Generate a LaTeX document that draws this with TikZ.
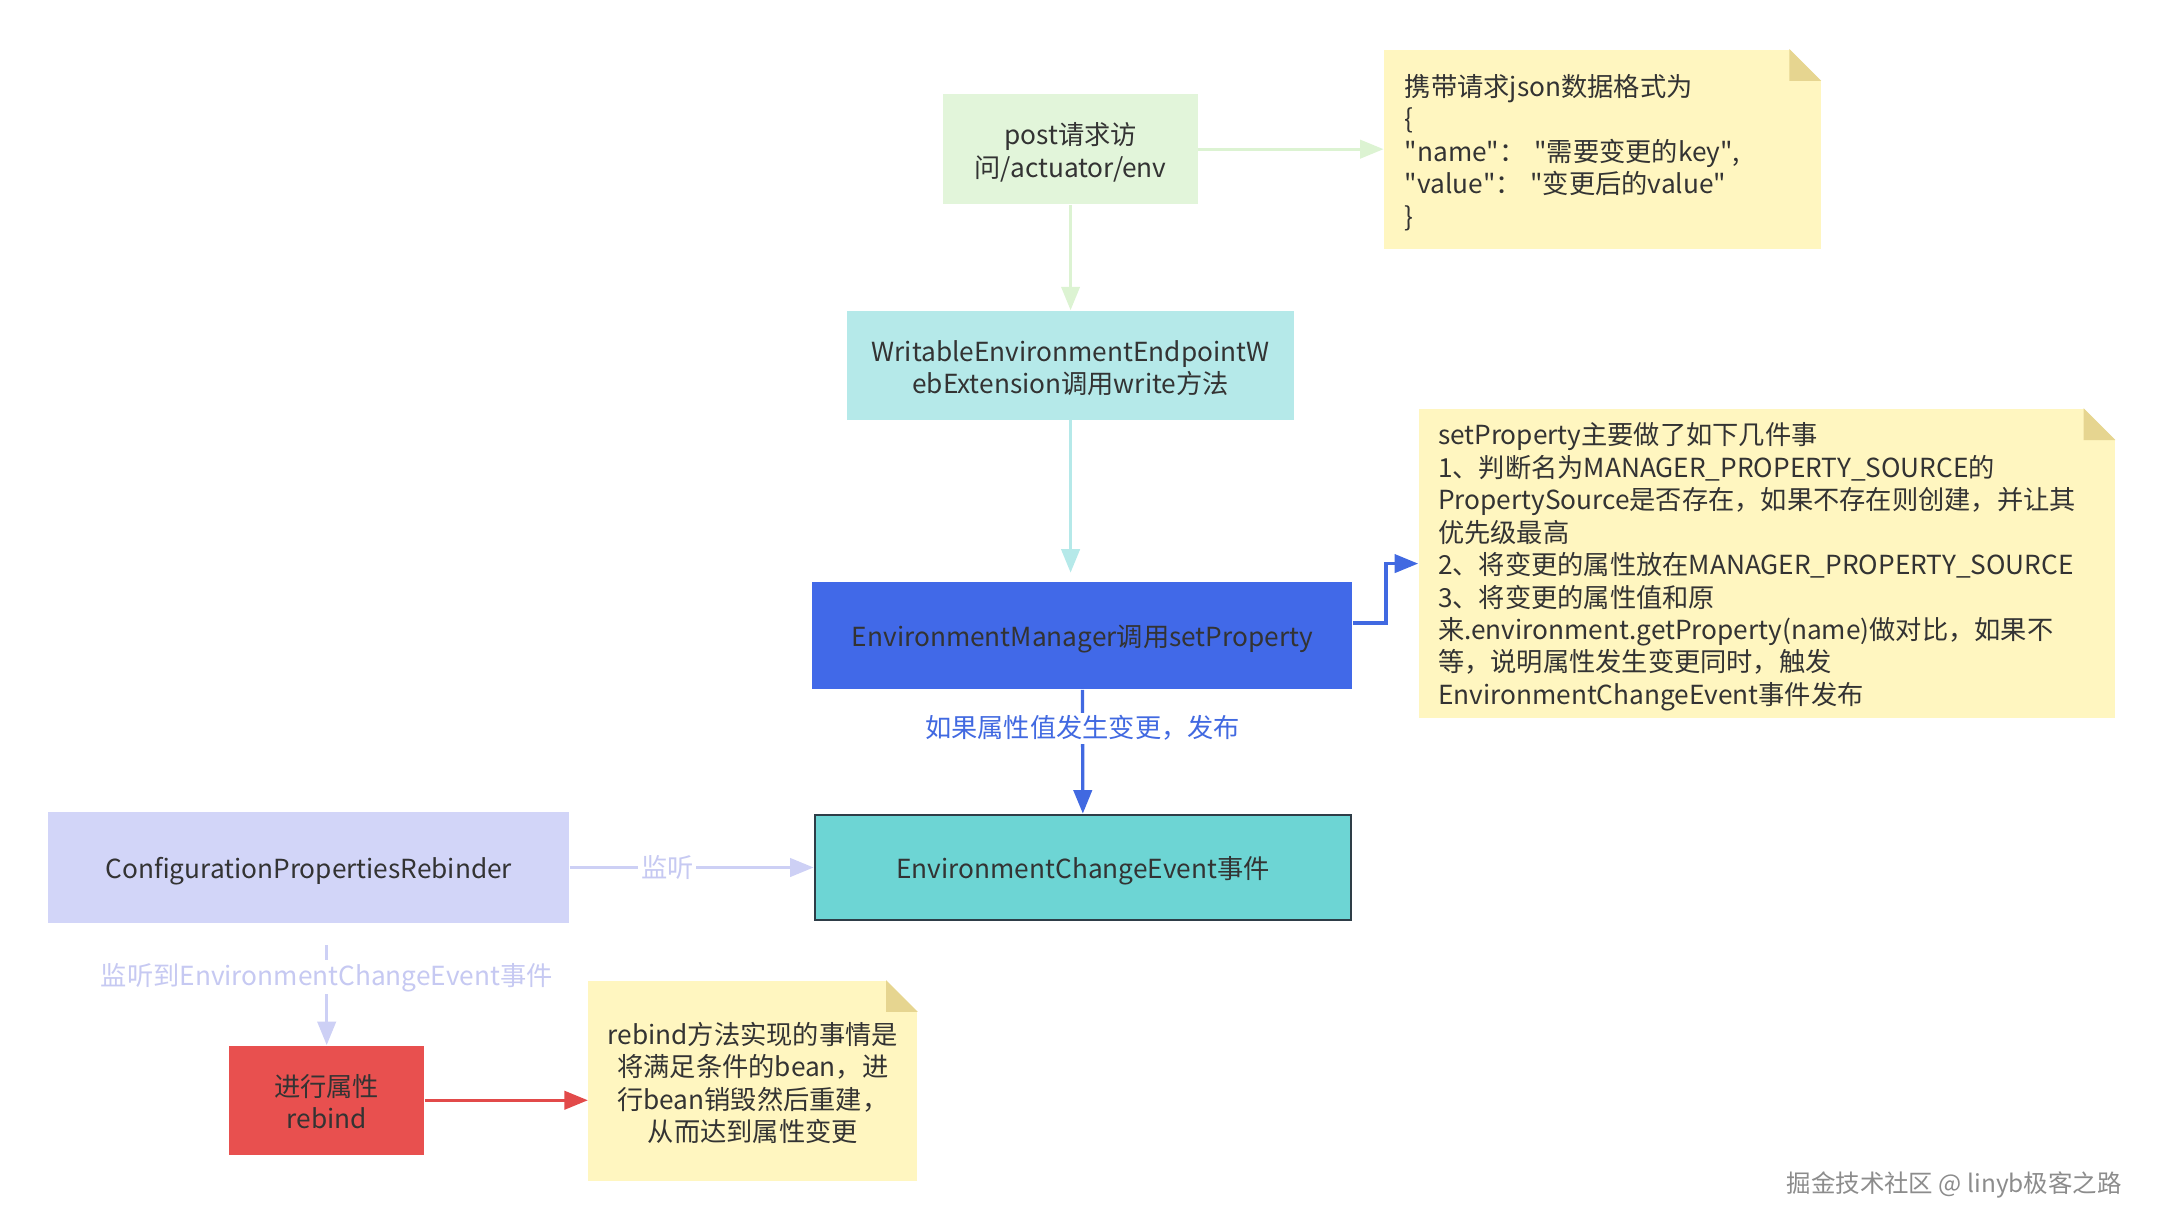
\documentclass[tikz,border=0pt]{standalone}
\usepackage{fontspec}
\setmainfont{Noto Sans CJK SC}
\usetikzlibrary{arrows.meta,positioning}
\definecolor{txt}{HTML}{333333}
\definecolor{postfill}{HTML}{E2F5DA}
\definecolor{postline}{HTML}{DCF3D2}
\definecolor{wrfill}{HTML}{B5E9E9}
\definecolor{emfill}{HTML}{4169E8}
\definecolor{emline}{HTML}{4169E1}
\definecolor{notefill}{HTML}{FFF6C0}
\definecolor{notefold}{HTML}{E6D590}
\definecolor{ecefill}{HTML}{6DD5D4}
\definecolor{ecebord}{HTML}{2E3D47}
\definecolor{rbfill}{HTML}{D2D5F8}
\definecolor{rbline}{HTML}{CDD0F5}
\definecolor{rblabel}{HTML}{C6C9F2}
\definecolor{redfill}{HTML}{E8504F}
\definecolor{redline}{HTML}{E24A4A}
\newcommand{\dq}{\XeTeXglyph\the\XeTeXcharglyph"22\relax}
\tikzset{
  base/.style={font=\fontsize{9.5pt}{11.75pt}\selectfont, text=txt},
  struts/.style={execute at begin node={\rule{0pt}{10.3pt}}, execute at end node={\rule[-1.45pt]{0pt}{0pt}}},
  box/.style={base, struts, rectangle, align=center, inner sep=0pt, minimum width=#1, text width=#1},
  notebox/.style={base, struts, rectangle, fill=notefill, inner sep=0pt},
  conn/.style={line width=1.2pt, -{Triangle[length=8.5pt,width=6.6pt]}},
  elabel/.style={base, fill=white, inner sep=1pt}
}
\newcommand{\foldcorner}[1]{%
  \fill[white] (#1.north east) -- ++(-11.5pt,0) -- ++(11.5pt,-11.5pt) -- cycle;
  \fill[notefold] ([xshift=-11.5pt]#1.north east) -- ++(11.5pt,-11.5pt) -- ++(-11.5pt,0) -- cycle;}
\begin{document}
\begin{tikzpicture}[x=0.5pt,y=-0.5pt]
\useasboundingbox (0,0) rectangle (1568,891.5);
% nodes
\node[box=92pt, fill=postfill, minimum height=40pt] (post) at (775,108) {post请求访\\问/actuator/env};
\node[notebox, minimum width=158pt, minimum height=72pt, text width=143pt, inner xsep=7.5pt, align=left] (json) at (1160,108)
 {携带请求json数据格式为\\\{\\\dq name\dq：\ \dq 需要变更的key\dq,\\\dq value\dq：\ \dq 变更后的value\dq\\\}};
\node[box=162pt, fill=wrfill, minimum height=39.5pt] (wr) at (775,264.5) {WritableEnvironmentEndpointW\\ebExtension调用write方法};
\node[box=195.5pt, fill=emfill, minimum height=39pt] (em) at (783.5,460) {EnvironmentManager调用setProperty};
\node[notebox, minimum width=252pt, minimum height=112pt, text width=238pt, inner xsep=7pt, align=left] (sp) at (1279,408)
 {setProperty主要做了如下几件事\\1、判断名为MANAGER\_PROPERTY\_SOURCE的\\PropertySource是否存在，如果不存在则创建，并让其\\优先级最高\\2、将变更的属性放在MANAGER\_PROPERTY\_SOURCE\\3、将变更的属性值和原\\来.environment.getProperty(name)做对比，如果不\\等，说明属性发生变更同时，触发\\EnvironmentChangeEvent事件发布};
\node[box=194pt, fill=ecefill, draw=ecebord, line width=1pt, minimum height=38pt] (ece) at (784,628) {EnvironmentChangeEvent事件};
\node[box=188.5pt, fill=rbfill, minimum height=40pt] (rb) at (223.5,628) {ConfigurationPropertiesRebinder};
\node[box=70.5pt, fill=redfill, minimum height=39.5pt] (rebind) at (236.5,796.5) {进行属性\\rebind};
\node[notebox, minimum width=119pt, text width=119pt, minimum height=72.5pt, align=center] (rn) at (545,782.5)
 {rebind方法实现的事情是\\将满足条件的bean，进\\行bean销毁然后重建，\\从而达到属性变更};
\foldcorner{json}
\foldcorner{sp}
\foldcorner{rn}
% connectors
\draw[conn, draw=postline] (post) -- (json);
\draw[conn, draw=postline] (post) -- (wr);
\draw[conn, draw=wrfill, shorten >=3pt] (wr.south) -- (wr.south |- em.north);
\draw[conn, draw=emline] ([yshift=4.5pt]em.east) -- ++(12pt,0) |- (sp.west);
\draw[conn, draw=emline] (em) -- (ece) node[elabel, text=emline, pos=0.31] {如果属性值发生变更，发布};
\draw[conn, draw=rbline] (rb) -- (ece) node[elabel, text=rblabel, pos=0.4] {监听};
\coordinate (rbs) at ([yshift=-8pt]rebind.north |- rb.south);
\draw[conn, draw=rbline] (rbs) -- (rebind) node[elabel, text=rblabel, pos=0.32] {监听到EnvironmentChangeEvent事件};
\draw[conn, draw=redline] (rebind.east) -- (rebind.east -| rn.west);
% watermark
\node[base, font=\fontsize{8.85pt}{11pt}\selectfont, text=white, anchor=east] (wm0) at (1544,859) {掘金技术社区 @ linyb极客之路};
\node[base, font=\fontsize{8.85pt}{11pt}\selectfont, text=gray!90, anchor=east] (wm) at (1543,858) {掘金技术社区 @ linyb极客之路};
\end{tikzpicture}
\end{document}
